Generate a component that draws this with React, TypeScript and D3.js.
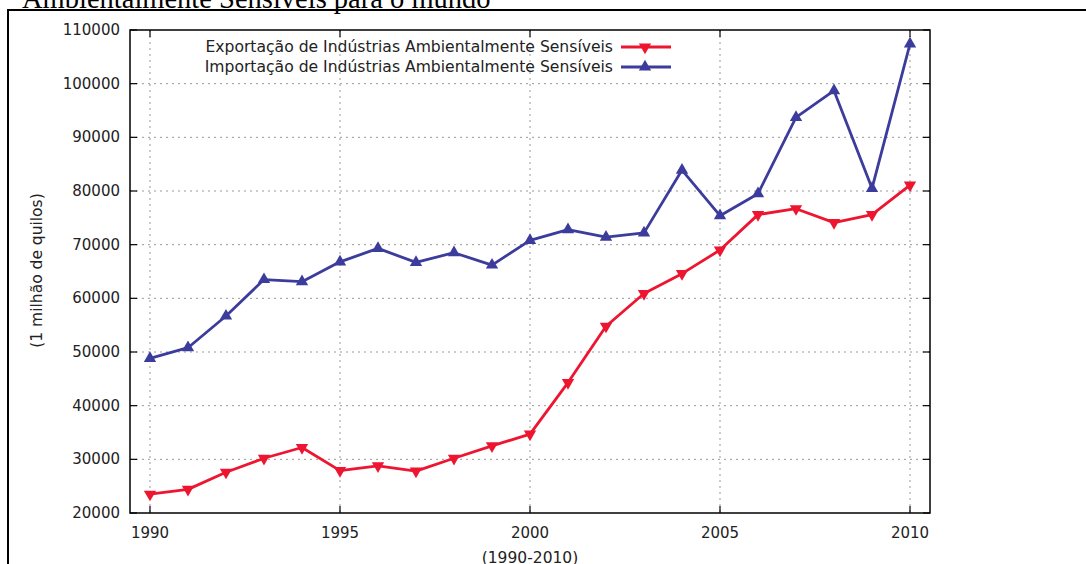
import React from 'react';
import * as d3 from 'd3';

const years = [1990, 1991, 1992, 1993, 1994, 1995, 1996, 1997, 1998, 1999, 2000,
  2001, 2002, 2003, 2004, 2005, 2006, 2007, 2008, 2009, 2010];

const exportValues = [23500, 24400, 27600, 30200, 32200, 27900, 28800, 27800, 30200, 32500, 34700,
  44300, 54800, 60900, 64600, 69000, 75600, 76700, 74100, 75600, 81100];

const importValues = [48800, 50800, 56700, 63500, 63100, 66800, 69300, 66700, 68500, 66200, 70800,
  72800, 71400, 72200, 83900, 75400, 79500, 93700, 98700, 80500, 107400];

const xTicks = [1990, 1995, 2000, 2005, 2010];
const yTicks = [20000, 30000, 40000, 50000, 60000, 70000, 80000, 90000, 100000, 110000];

const seriesNames = [
  'Exportação de Indústrias Ambientalmente Sensíveis',
  'Importação de Indústrias Ambientalmente Sensíveis',
];

const W = 1086;
const H = 564;
const plot = { left: 130, right: 930, top: 30, bottom: 513 };
const RED = '#ee1530';
const BLUE = '#3c3c9c';
const FONT = '"DejaVu Sans", Verdana, sans-serif';

const App: React.FC = () => {
  const x = d3.scaleLinear().domain([1989.474, 2010.526]).range([plot.left, plot.right]);
  const y = d3.scaleLinear().domain([20000, 110000]).range([plot.bottom, plot.top]);

  const line = d3.line<number>()
    .x((_d, i) => x(years[i]))
    .y(d => y(d));

  const tri = d3.symbol().type(d3.symbolTriangle).size(66)() || '';

  const series = [
    { values: exportValues, color: RED, rot: 180 },
    { values: importValues, color: BLUE, rot: 0 },
  ];

  const tickLen = 7;

  return (
    <div style={{ position: 'fixed', left: 0, top: 0, background: '#fff' }}>
      <svg width={W} height={H} style={{ display: 'block' }}>
        <rect x={0} y={0} width={W} height={H} fill="#fff" />
        {/* page title, cut off at the top */}
        <text x={22} y={8} fontFamily='"Liberation Serif", "Times New Roman", serif' fontSize={28.5} fill="#000">
          Ambientalmente Sensíveis para o mundo
        </text>
        <line x1={7} x2={W} y1={10} y2={10} stroke="#000" strokeWidth={2} />
        <line x1={8} x2={8} y1={10} y2={H} stroke="#000" strokeWidth={2} />

        {/* grid */}
        <g stroke="#999" strokeWidth={1} strokeDasharray="2,4">
          {yTicks.filter(t => t > 20000 && t < 110000).map(t => (
            <line key={'gy' + t} x1={plot.left} x2={plot.right} y1={y(t)} y2={y(t)} />
          ))}
          {xTicks.map(t => (
            <line key={'gx' + t} x1={x(t)} x2={x(t)} y1={plot.top} y2={plot.bottom} />
          ))}
        </g>

        {/* ticks */}
        <g stroke="#000" strokeWidth={1.2}>
          {yTicks.map(t => (
            <g key={'ty' + t}>
              <line x1={plot.left} x2={plot.left + tickLen} y1={y(t)} y2={y(t)} />
              <line x1={plot.right} x2={plot.right - tickLen} y1={y(t)} y2={y(t)} />
            </g>
          ))}
          {xTicks.map(t => (
            <g key={'tx' + t}>
              <line x1={x(t)} x2={x(t)} y1={plot.bottom} y2={plot.bottom - tickLen} />
              <line x1={x(t)} x2={x(t)} y1={plot.top} y2={plot.top + tickLen} />
            </g>
          ))}
        </g>

        {/* tick labels */}
        <g fontFamily={FONT} fontSize={15} fill="#222">
          {yTicks.map(t => (
            <text key={'ly' + t} x={plot.left - 10} y={y(t)} textAnchor="end" dominantBaseline="central">{t}</text>
          ))}
          {xTicks.map(t => (
            <text key={'lx' + t} x={x(t)} y={plot.bottom + 20} textAnchor="middle" dominantBaseline="central">{t}</text>
          ))}
        </g>

        {/* axis titles */}
        <text x={(plot.left + plot.right) / 2} y={558} textAnchor="middle" dominantBaseline="central"
          fontFamily={FONT} fontSize={15.5} fill="#222">(1990-2010)</text>
        <text transform={`translate(37, ${(plot.top + plot.bottom) / 2 - 1}) rotate(-90)`} textAnchor="middle"
          dominantBaseline="central" fontFamily={FONT} fontSize={15.5} fill="#222">(1 milhão de quilos)</text>

        {/* series */}
        {series.map((s, si) => (
          <g key={'s' + si}>
            <path d={line(s.values) || ''} fill="none" stroke={s.color} strokeWidth={2.8} strokeLinejoin="round" />
            {s.values.map((v, i) => (
              <path key={i} d={tri} fill={s.color}
                transform={`translate(${x(years[i])}, ${y(v)}) rotate(${s.rot})`} />
            ))}
          </g>
        ))}

        {/* legend */}
        {series.map((s, si) => {
          const ly = 47 + si * 20;
          return (
            <g key={'lg' + si}>
              <text x={613} y={ly} textAnchor="end" dominantBaseline="central"
                fontFamily={FONT} fontSize={15.6} fill="#222">{seriesNames[si]}</text>
              <line x1={621} x2={671} y1={ly} y2={ly} stroke={s.color} strokeWidth={2.8} />
              <path d={tri} fill={s.color} transform={`translate(645, ${ly}) rotate(${s.rot})`} />
            </g>
          );
        })}

        {/* plot frame */}
        <rect x={plot.left} y={plot.top} width={plot.right - plot.left} height={plot.bottom - plot.top}
          fill="none" stroke="#000" strokeWidth={1.5} />
      </svg>
    </div>
  );
};

export default App;
